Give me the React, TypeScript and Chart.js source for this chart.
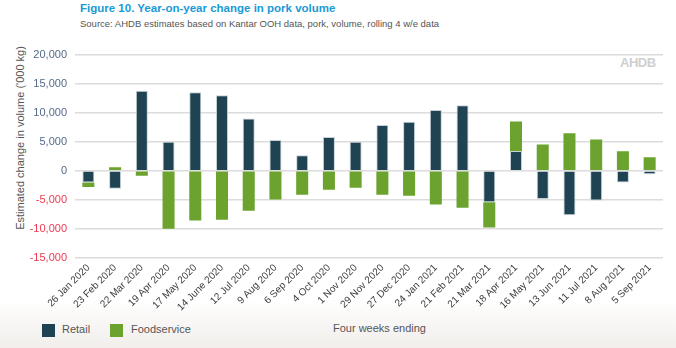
import React, { useEffect, useRef } from "react";
import { Chart, registerables } from "chart.js";

Chart.register(...registerables);

const categories = [
  "26 Jan 2020", "23 Feb 2020", "22 Mar 2020", "19 Apr 2020", "17 May 2020",
  "14 June 2020", "12 Jul 2020", "9 Aug 2020", "6 Sep 2020", "4 Oct 2020",
  "1 Nov 2020", "29 Nov 2020", "27 Dec 2020", "24 Jan 2021", "21 Feb 2021",
  "21 Mar 2021", "18 Apr 2021", "16 May 2021", "13 Jun 2021", "11 Jul 2021",
  "8 Aug 2021", "5 Sep 2021",
];

const retail = [
  -2000, -3100, 13800, 5000, 13500, 13000, 9000, 5300, 2700, 5800, 5000,
  7900, 8450, 10450, 11300, -5400, 3400, -4850, -7650, -5100, -2000, -600,
];

const foodservice = [
  -800, 600, -850, -9950, -8550, -8400, -6850, -4950, -4100, -3250, -2900,
  -4100, -4300, -5800, -6350, -4350, 5100, 4550, 6450, 5400, 3350, 2350,
];

const yTicks = [-15000, -10000, -5000, 0, 5000, 10000, 15000, 20000];

const RETAIL_COLOR = "#1f4352";
const FS_COLOR = "#6ba32e";
const FONT = "'Liberation Sans', Arial, sans-serif";

export default function App() {
  const ref = useRef<HTMLCanvasElement | null>(null);

  useEffect(() => {
    document.body.style.margin = "0";
    if (!ref.current) return;
    const chart = new Chart(ref.current, {
      type: "bar",
      data: {
        labels: categories,
        datasets: [
          {
            label: "Retail",
            data: retail,
            backgroundColor: RETAIL_COLOR,
            borderColor: "rgba(190,205,212,0.9)",
            borderWidth: 1,
            barPercentage: 0.45,
            categoryPercentage: 1,
            stack: "s",
          },
          {
            label: "Foodservice",
            data: foodservice,
            backgroundColor: FS_COLOR,
            borderWidth: 0,
            barPercentage: 0.45,
            categoryPercentage: 1,
            stack: "s",
          },
        ],
      },
      options: {
        animation: false,
        responsive: false,
        maintainAspectRatio: false,
        layout: { padding: { left: 0, right: 13, top: 14, bottom: 0 } },
        plugins: {
          legend: { display: false },
          tooltip: { enabled: false },
          title: { display: false },
        },
        scales: {
          x: {
            stacked: true,
            grid: { display: false, drawTicks: false },
            border: { display: false },
            ticks: {
              autoSkip: false,
              minRotation: 45,
              maxRotation: 45,
              padding: 4,
              color: "#3c3c3c",
              font: { family: FONT, size: 10 },
            },
            afterFit: (s: any) => {
              s.height = 62;
            },
          },
          y: {
            stacked: true,
            min: -15000,
            max: 20000,
            afterBuildTicks: (s: any) => {
              s.ticks = yTicks.map((v) => ({ value: v }));
            },
            grid: { color: "#dcdcdc", lineWidth: 1.5, drawTicks: false },
            border: { display: false },
            ticks: {
              padding: 8,
              font: { family: FONT, size: 11 },
              color: (ctx: any) => (ctx.tick && ctx.tick.value < 0 ? "#ec3a52" : "#55698a"),
              callback: (v: any) => Number(v).toLocaleString("en-US"),
            },
            afterFit: (s: any) => {
              s.width = 75;
            },
          },
        },
      },
    });
    return () => chart.destroy();
  }, []);

  return (
    <div
      style={{
        position: "absolute",
        left: 0,
        top: 0,
        width: 676,
        height: 348,
        overflow: "hidden",
        background: "linear-gradient(to bottom, #ffffff 0px, #ffffff 300px, #f1eeeb 348px)",
        fontFamily: FONT,
      }}
    >
      <div
        style={{
          position: "absolute",
          left: 80,
          top: 2,
          fontSize: 11.5,
          fontWeight: "bold",
          color: "#1a9ad6",
          whiteSpace: "nowrap",
        }}
      >
        Figure 10. Year-on-year change in pork volume
      </div>
      <div
        style={{
          position: "absolute",
          left: 80,
          top: 18,
          fontSize: 9.5,
          color: "#555555",
          whiteSpace: "nowrap",
        }}
      >
        Source: AHDB estimates based on Kantar OOH data, pork, volume, rolling 4 w/e data
      </div>
      <div
        style={{
          position: "absolute",
          left: 620,
          top: 55,
          fontSize: 13,
          fontWeight: "bold",
          color: "#cfcfcf",
          letterSpacing: -0.5,
          whiteSpace: "nowrap",
        }}
      >
        AHDB
      </div>
      <div
        style={{
          position: "absolute",
          left: 20,
          top: 138,
          transform: "translate(-50%, -50%) rotate(-90deg)",
          fontSize: 11,
          color: "#555555",
          whiteSpace: "nowrap",
        }}
      >
        Estimated change in volume ('000 kg)
      </div>
      <canvas
        ref={ref}
        width={676}
        height={280}
        style={{ position: "absolute", left: 0, top: 40, width: 676, height: 280 }}
      />
      <div style={{ position: "absolute", left: 42, top: 324, width: 13, height: 13, background: RETAIL_COLOR }} />
      <div style={{ position: "absolute", left: 62, top: 323, fontSize: 11, color: "#555" }}>Retail</div>
      <div style={{ position: "absolute", left: 110, top: 324, width: 13, height: 13, background: FS_COLOR }} />
      <div style={{ position: "absolute", left: 131, top: 323, fontSize: 11, color: "#555" }}>Foodservice</div>
      <div style={{ position: "absolute", left: 333, top: 322, fontSize: 11, color: "#555" }}>Four weeks ending</div>
    </div>
  );
}
